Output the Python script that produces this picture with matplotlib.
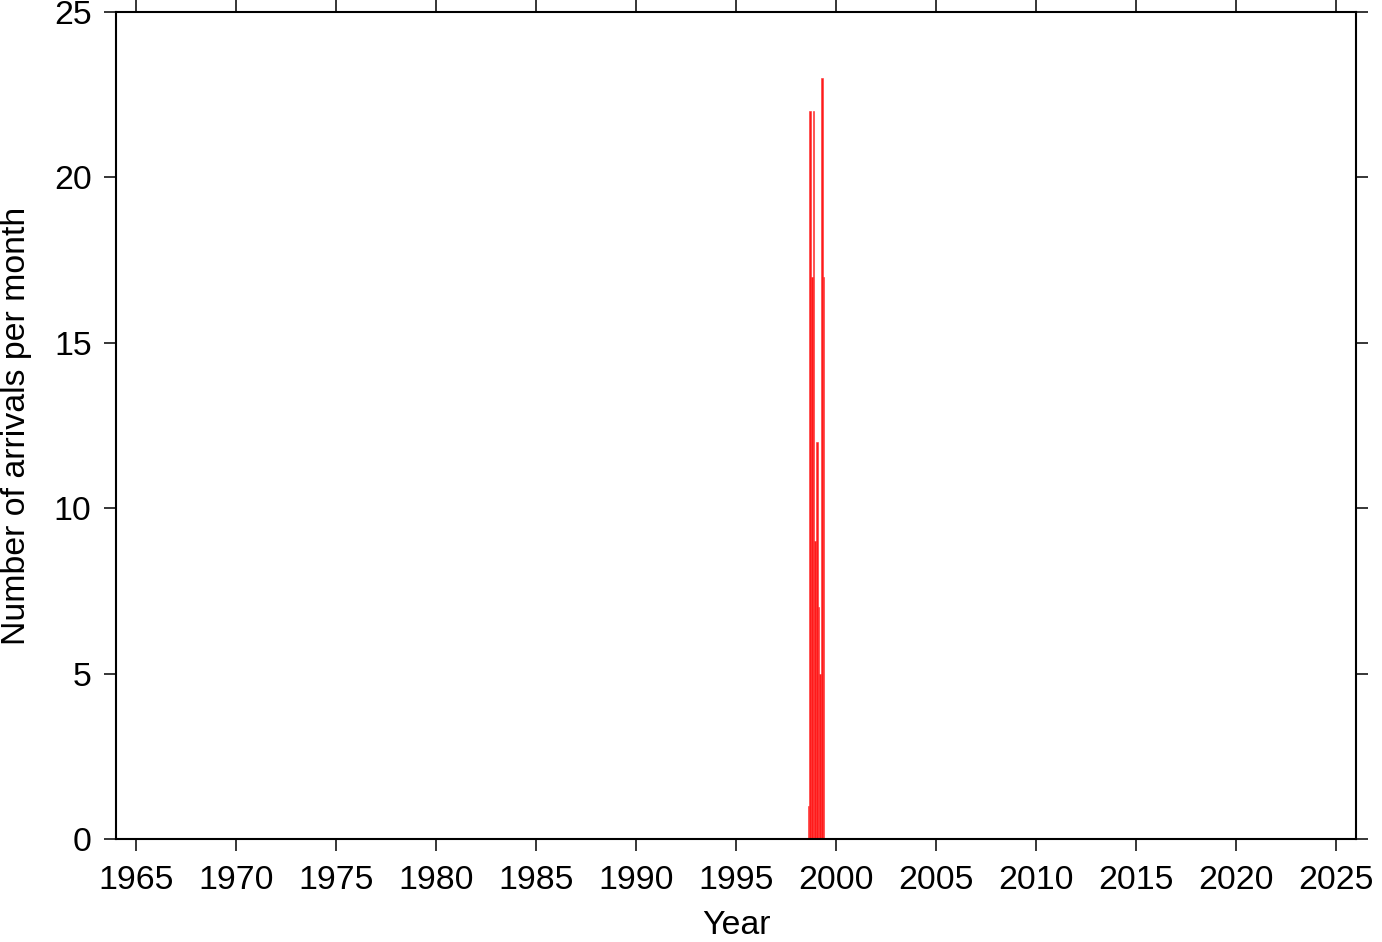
import numpy as np
import matplotlib
matplotlib.use("Agg")
import matplotlib.pyplot as plt

plt.rcParams["font.family"] = ["Liberation Sans", "DejaVu Sans"]

# monthly arrivals, Aug 1998 .. May 1999
start_year = 1998
start_month = 8
counts = [1, 22, 17, 22, 9, 12, 7, 5, 23, 17]

x_ticks = list(range(1965, 2030, 5))
y_ticks = [0, 5, 10, 15, 20, 25]

months = np.arange(len(counts)) + (start_month - 1)
t = start_year + months / 12.0

fig = plt.figure(figsize=(13.82, 9.42), dpi=100)
ax = fig.add_axes([116 / 1382, 103 / 942, 1240 / 1382, 827 / 942])

ax.bar(t, counts, width=1 / 12, align="edge", color="#ff1a1a",
       edgecolor="#ff3030", linewidth=0.4)

ax.set_xlim(1964, 2026)
ax.set_ylim(0, 25)
ax.set_xticks(x_ticks)
ax.set_yticks(y_ticks)
ax.tick_params(direction="out", length=8.6, width=1.1, labelsize=24.4,
               top=True, right=True, pad=9)
ax.tick_params(axis="x", pad=10)
for s in ax.spines.values():
    s.set_linewidth(1.5)

ax.set_xlabel("Year", fontsize=24.4, labelpad=10)
ax.set_ylabel("Number of arrivals per month", fontsize=24.4)
ax.yaxis.set_label_coords(-0.068, 0.5)

fig.savefig("out.png", dpi=100)
